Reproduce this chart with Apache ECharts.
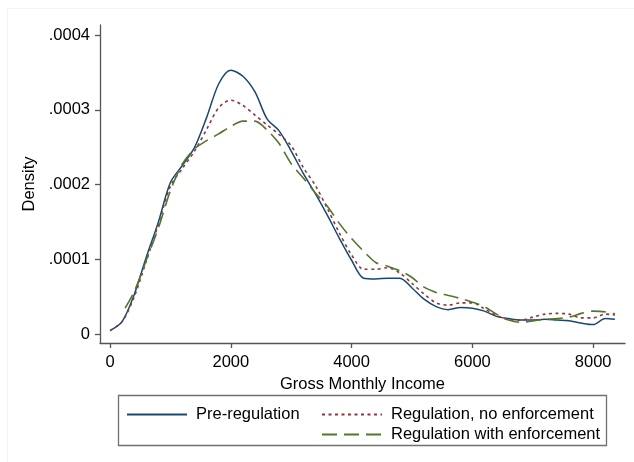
<!DOCTYPE html>
<html>
<head>
<meta charset="utf-8">
<script src="https://cdn.jsdelivr.net/npm/echarts@6/dist/echarts.min.js"></script>
<style>
  html, body { margin: 0; padding: 0; background: #fff; }
  #chart { width: 634px; height: 462px; }
</style>
</head>
<body>
<div id="chart"></div>
<script>
// density values are in units of 0.0001
const incomeX = [0, 200, 400, 600, 800, 1000, 1200, 1400, 1600, 1800, 2000, 2200, 2400, 2600, 2800, 3000,
  3200, 3400, 3600, 3800, 4000, 4200, 4400, 4600, 4800, 5000, 5200, 5400, 5600, 5800, 6000,
  6200, 6400, 6600, 6800, 7000, 7200, 7400, 7600, 7800, 8000, 8200, 8360];
const preRegulation = [0.05, 0.17, 0.53, 1.03, 1.50, 2.03, 2.26, 2.50, 2.90, 3.35, 3.53, 3.45, 3.24, 2.88, 2.72, 2.45,
  2.15, 1.88, 1.59, 1.28, 0.99, 0.75, 0.74, 0.75, 0.75, 0.62, 0.47, 0.37, 0.33, 0.36, 0.35,
  0.31, 0.24, 0.21, 0.19, 0.19, 0.20, 0.19, 0.18, 0.15, 0.13, 0.21, 0.20];
const noEnforcement = [0.05, 0.17, 0.50, 0.98, 1.47, 1.98, 2.22, 2.45, 2.74, 3.03, 3.13, 3.06, 2.93, 2.80, 2.67, 2.52,
  2.23, 1.99, 1.68, 1.35, 1.06, 0.87, 0.87, 0.89, 0.82, 0.68, 0.54, 0.42, 0.39, 0.42, 0.42,
  0.34, 0.25, 0.20, 0.19, 0.23, 0.27, 0.28, 0.27, 0.22, 0.22, 0.27, 0.26];
const enforceX = [250, 400, 600, 800, 1000, 1200, 1400, 1600, 1800, 2000, 2200, 2400, 2600, 2800, 3000,
  3200, 3400, 3600, 3800, 4000, 4200, 4400, 4600, 4800, 5000, 5200, 5400, 5600, 5800, 6000,
  6200, 6400, 6600, 6800, 7000, 7200, 7400, 7600, 7800, 8000, 8200, 8360];
const withEnforcement = [0.35, 0.57, 0.99, 1.42, 1.92, 2.28, 2.48, 2.59, 2.68, 2.78, 2.85, 2.85, 2.73, 2.55, 2.28,
  2.09, 1.89, 1.71, 1.48, 1.28, 1.11, 0.96, 0.91, 0.85, 0.76, 0.63, 0.56, 0.52, 0.48, 0.43,
  0.37, 0.27, 0.19, 0.16, 0.18, 0.20, 0.21, 0.23, 0.28, 0.31, 0.30, 0.27];
const xTicks = [0, 2000, 4000, 6000, 8000];
const yTicks = [0, 1, 2, 3, 4];
const yTickLabels = ['0', '.0001', '.0002', '.0003', '.0004'];

const pairs = (xs, ys) => xs.map((x, i) => [x, ys[i]]);
const font = 'Liberation Sans, Arial, sans-serif';
const fs = 16.5;

const chart = echarts.init(document.getElementById('chart'), null, { renderer: 'canvas' });
chart.setOption({
  animation: false,
  backgroundColor: '#fff',
  grid: { left: 100, right: 9, top: 25, bottom: 119, containLabel: false },
  xAxis: {
    type: 'value',
    min: -166,
    max: 8527,
    name: 'Gross Monthly Income',
    nameLocation: 'middle',
    nameGap: 25,
    nameTextStyle: { color: '#000', fontSize: fs, fontFamily: font },
    axisLine: { show: true, onZero: false, lineStyle: { color: '#555', width: 1.3 } },
    axisTick: { show: true, length: 5, customValues: xTicks, lineStyle: { color: '#555', width: 1.3 } },
    axisLabel: {
      customValues: xTicks, margin: 11, color: '#000', fontSize: fs, fontFamily: font,
      formatter: v => String(Math.round(v))
    },
    splitLine: { show: false }
  },
  yAxis: {
    type: 'value',
    min: -0.116,
    max: 4.135,
    name: 'Density',
    nameLocation: 'middle',
    nameGap: 57,
    nameTextStyle: { color: '#000', fontSize: fs, fontFamily: font },
    axisLine: { show: true, onZero: false, lineStyle: { color: '#555', width: 1.3 } },
    axisTick: { show: true, length: 5, customValues: yTicks, lineStyle: { color: '#555', width: 1.3 } },
    axisLabel: {
      customValues: yTicks, margin: 10, color: '#000', fontSize: fs, fontFamily: font,
      formatter: v => yTickLabels[yTicks.indexOf(Math.round(v))]
    },
    splitLine: { show: false }
  },
  legend: [
    {
      data: ['Pre-regulation'],
      left: 121, top: 401,
      itemWidth: 60, itemHeight: 14, itemGap: 3,
      itemStyle: { opacity: 0 },
      textStyle: { color: '#000', fontSize: fs, fontFamily: font, padding: [0, 0, 0, 4] }
    },
    {
      data: ['Regulation, no enforcement', 'Regulation with enforcement'],
      orient: 'vertical',
      left: 316, top: 401,
      itemWidth: 60, itemHeight: 14, itemGap: 3,
      itemStyle: { opacity: 0 },
      textStyle: { color: '#000', fontSize: fs, fontFamily: font, padding: [0, 0, 0, 4] }
    }
  ],
  graphic: [
    {
      type: 'rect', silent: true, z: -1,
      shape: { x: 7.5, y: 8.5, width: 640, height: 470 },
      style: { fill: 'none', stroke: '#f3f3f3', lineWidth: 1 }
    },
    {
      type: 'rect', silent: true,
      shape: { x: 118.5, y: 395.5, width: 488, height: 50 },
      style: { fill: 'none', stroke: '#707070', lineWidth: 1.3 }
    }
  ],
  series: [
    {
      name: 'Pre-regulation',
      type: 'line',
      data: pairs(incomeX, preRegulation),
      smooth: 0.3,
      symbol: 'none',
      lineStyle: { color: '#1a476f', width: 1.5 },
      itemStyle: { color: '#1a476f' }
    },
    {
      name: 'Regulation, no enforcement',
      type: 'line',
      data: pairs(incomeX, noEnforcement),
      smooth: 0.3,
      symbol: 'none',
      lineStyle: { color: '#90353b', width: 1.6, type: [3, 3.5] },
      itemStyle: { color: '#90353b' }
    },
    {
      name: 'Regulation with enforcement',
      type: 'line',
      data: pairs(enforceX, withEnforcement),
      smooth: 0.3,
      symbol: 'none',
      lineStyle: { color: '#55752f', width: 1.6, type: [15, 7] },
      itemStyle: { color: '#55752f' }
    }
  ]
});
</script>
</body>
</html>
